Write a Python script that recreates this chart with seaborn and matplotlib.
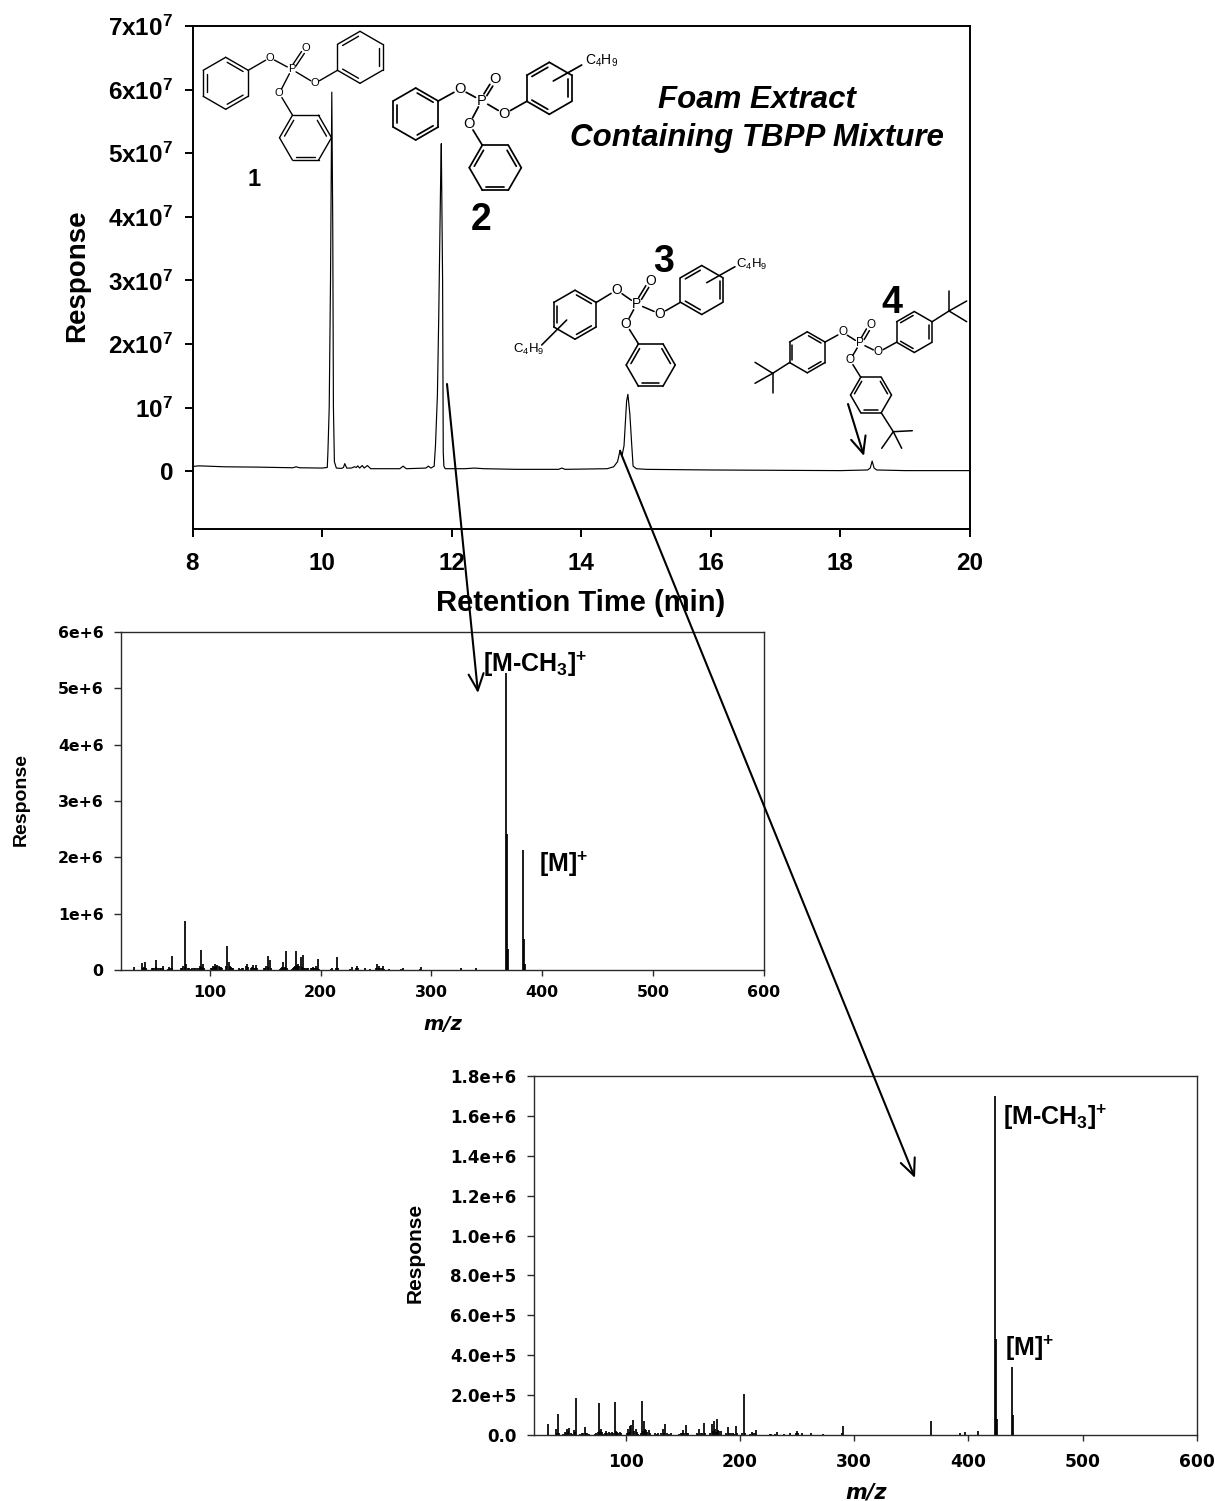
import numpy as np
import pandas as pd
import matplotlib
matplotlib.use("Agg")
import matplotlib.pyplot as plt
import seaborn as sns

# ---------------- data ----------------
chrom_time = [8, 8.1, 8.5, 9, 9.55, 9.6, 9.65, 10.0, 10.08, 10.09, 10.11, 10.13, 10.14, 10.15, 10.165, 10.175, 10.19, 10.22,
              10.3, 10.33, 10.35, 10.38, 10.45, 10.5, 10.53, 10.55, 10.58, 10.62, 10.65, 10.7, 10.75, 11.2, 11.25, 11.3,
              11.6, 11.64, 11.68, 11.73, 11.75, 11.78, 11.8, 11.83, 11.84, 11.86, 11.87, 11.88, 11.9, 12.2, 12.35, 12.5, 13, 13.65,
              13.7, 13.75, 14.4, 14.5, 14.56, 14.6, 14.63, 14.66, 14.7, 14.72, 14.75, 14.78, 14.8, 14.85, 15, 16, 18,
              18.42, 18.46, 18.49, 18.52, 18.56, 19, 20]
chrom_resp = [.075, .085, .07, .065, .055, .07, .055, .05, .06, .3, 1.0, 3.0, 4.5, 5.96, 3.8, 1.0, .15, .05,
              .045, .06, .12, .05, .05, .07, .06, .085, .05, .09, .05, .09, .04, .04, .08, .04,
              .05, .08, .05, .08, .4, 1.2, 2.4, 4.6, 5.15, 3.0, .3, .08, .04, .04, .05, .04, .03, .03,
              .05, .03, .04, .07, .15, .33, .25, .4, 1.1, 1.21, .9, .4, .08, .04, .03, .02, .01,
              .02, .05, .16, .05, .02, .01, .01]

ms1_mz = [32, 39, 42, 48, 50, 51.6, 56, 57.6, 63, 65.8, 75, 77.5, 79, 84, 86, 90, 92, 94, 102, 105, 107, 110, 116, 117,
          119, 126, 129, 134, 139, 142, 150, 152.5, 154, 164, 166, 169, 175, 178, 180, 182, 184, 188, 193, 196, 198,
          210, 215, 228, 233, 240, 245, 251, 253, 256, 262, 274, 291, 327, 340, 367.3, 368.2, 369.2, 382.4, 383.3, 384.3]
ms1_int = [.05, .12, .135, .03, .04, .18, .04, .06, .05, .25, .04, .87, .1, .03, .03, .04, .36, .1, .04, .1, .08, .05,
           .43, .13, .05, .03, .03, .1, .09, .08, .03, .24, .18, .03, .13, .33, .03, .34, .1, .22, .27, .04, .05, .06,
           .19, .04, .23, .05, .07, .03, .02, .1, .06, .06, .01, .03, .05, .03, .03, 5.28, 2.42, .37, 2.13, .55, .1]
ms1_small = [(40, .04), (41, .05), (43, .03), (49, .03), (52, .05), (53, .04), (55, .03), (58, .03), (62, .02), (64, .04),
             (66, .04), (74, .04), (76, .06), (78, .05), (80, .04), (81, .03), (83, .02), (87, .03), (89, .04), (91, .06),
             (93, .05), (95, .03), (101, .03), (103, .06), (104, .05), (106, .07), (108, .06), (109, .05), (111, .03),
             (115, .07), (118, .06), (120, .04), (121, .03), (127, .02), (130, .03), (133, .06), (135, .05), (137, .03),
             (138, .05), (140, .04), (141, .04), (143, .04), (149, .03), (151, .06), (153, .05), (155, .03), (163, .02),
             (165, .05), (167, .04), (168, .05), (170, .03), (174, .02), (176, .05), (177, .06), (179, .08), (181, .06),
             (183, .05), (185, .04), (186, .03), (187, .02), (189, .03), (191, .04), (192, .03), (194, .04), (195, .03),
             (197, .03), (199, .02), (209, .02), (214, .03), (216, .03), (227, .02), (232, .03), (234, .03), (250, .03),
             (252, .04), (254, .04), (255, .03), (257, .02), (273, .02), (290, .02)]

ms2_mz = [31.6, 38.6, 40.6, 46.7, 48.8, 50.8, 54.6, 56.6, 61.9, 64.2, 66.5, 74.4, 76.4, 78.2, 83.1, 85.2, 88, 90.4, 92.4,
          94.8, 102, 103.8, 105, 106.4, 108.7, 114.6, 116, 118, 120.4, 125.3, 128.2, 132.6, 134.4, 139.9, 148.6, 150.5,
          152.4, 154.5, 162, 164.3, 168.1, 175.4, 177.1, 180, 182, 189.1, 193.7, 196.4, 203.3, 210.3, 214.4, 227.2,
          232.2, 238.3, 243.8, 250, 254, 262, 272.3, 290.4, 367, 393, 397, 408, 423.2, 424, 425, 438.1, 439]
ms2_int = [.55, .3, 1.08, .17, .3, .37, .25, 1.87, .12, .42, .12, .12, 1.63, .33, .22, .18, .17, 1.68, .18,
           .17, .3, .47, .53, .78, .33, 1.73, .7, .28, .25, .12, .12, .33, .55, .13, .12, .25,
           .53, .12, .12, .33, .62, .55, .7, .8, .2, .43, .12, .47, 2.08, .18, .28, .08,
           .18, .08, .12, .22, .13, .12, .08, .48, .7, .1, .15, .2, 17.0, 4.8, .8, 3.4, 1.0]
ms2_small = [(39.6, .12), (42, .1), (45, .08), (47.7, .12), (49.8, .2), (51.8, .1), (53, .08), (55.6, .15), (60, .06),
             (63, .1), (65.3, .14), (67.5, .08), (73, .06), (75.4, .15), (77.3, .2), (79.2, .18), (80.2, .08), (82, .1),
             (84, .12), (86.2, .1), (89, .12), (91.4, .2), (93.4, .14), (96, .1), (101, .1), (103, .18), (107.5, .2),
             (109.7, .16), (111, .08), (113, .1), (115.4, .2), (117, .3), (119, .18), (121.5, .1), (127, .08), (131, .1),
             (133.5, .14), (136, .1), (138, .06), (147, .08), (149.6, .1), (151.4, .12), (153.5, .1), (163, .08),
             (166, .12), (167, .1), (169, .12), (174, .1), (176, .2), (178, .3), (179, .18), (181, .25), (183, .2),
             (188, .1), (190.2, .14), (192, .1), (195, .08), (197.5, .12), (202, .1), (204.5, .1), (209, .08),
             (211.5, .1), (213, .1), (226, .06), (231, .08), (249, .1), (251, .1), (289, .1)]

chrom_xticks = [8, 10, 12, 14, 16, 18, 20]
chrom_yticks = [0, 1, 2, 3, 4, 5, 6, 7]
chrom_ylabels = ["0", "10$^{7}$", "2x10$^{7}$", "3x10$^{7}$", "4x10$^{7}$", "5x10$^{7}$", "6x10$^{7}$", "7x10$^{7}$"]
mz_ticks = [100, 200, 300, 400, 500, 600]
ms1_yticks = [0, 1, 2, 3, 4, 5, 6]
ms1_ylabels = ["0", "1e+6", "2e+6", "3e+6", "4e+6", "5e+6", "6e+6"]
ms2_yticks = [0, 2, 4, 6, 8, 10, 12, 14, 16, 18]
ms2_ylabels = ["0.0", "2.0e+5", "4.0e+5", "6.0e+5", "8.0e+5", "1.0e+6", "1.2e+6", "1.4e+6", "1.6e+6", "1.8e+6"]

# ---------------- style ----------------
sns.set_theme(style="ticks")
plt.rcParams["font.family"] = ["Liberation Sans", "DejaVu Sans"]
plt.rcParams["mathtext.default"] = "regular"
plt.rcParams["axes.edgecolor"] = "black"
plt.rcParams["xtick.color"] = "black"
plt.rcParams["ytick.color"] = "black"
plt.rcParams["text.color"] = "black"
plt.rcParams["axes.labelcolor"] = "black"

W, H = 1215, 1501
fig = plt.figure(figsize=(W / 100, H / 100), dpi=100, facecolor="white")
WIDE = "DejaVu Sans"
SPINE = "#2a2a2a"


def box(l, t, r, b):
    return [l / W, 1 - b / H, (r - l) / W, (b - t) / H]


def finish(ax, xt, yt, ylab, xfs, yfs, lw, xlen, ylen, xpad, ypad, fam=None, col="black"):
    kw = {"fontfamily": fam} if fam else {}
    ax.set_xticks(xt)
    ax.set_xticklabels([str(v) for v in xt], fontsize=xfs, fontweight="bold", **kw)
    ax.set_yticks(yt)
    ax.set_yticklabels(ylab, fontsize=yfs, fontweight="bold", **kw)
    ax.tick_params(axis="x", length=xlen, width=lw, direction="out", pad=xpad, color=col)
    ax.tick_params(axis="y", length=ylen, width=lw, direction="out", pad=ypad, color=col)
    for s in ax.spines.values():
        s.set_linewidth(lw)
        s.set_color(col)


def labels(ax, xtxt, xpos, xkw, ytxt, ypos, ykw):
    ax.set_xlabel(xtxt, va="center", ha="center", **xkw)
    ax.set_ylabel(ytxt, va="center", ha="center", **ykw)
    ax.xaxis.set_label_coords(xpos[0] / W, 1 - xpos[1] / H, transform=fig.transFigure)
    ax.yaxis.set_label_coords(ypos[0] / W, 1 - ypos[1] / H, transform=fig.transFigure)


# chromatogram
ax1 = fig.add_axes(box(192.5, 26, 970, 528.5))
df = pd.DataFrame({"t": chrom_time, "r": chrom_resp})
sns.lineplot(data=df, x="t", y="r", ax=ax1, color="black", lw=0.85, estimator=None, sort=False)
ax1.set_xlim(8, 20)
ax1.set_ylim(-0.9, 7)
finish(ax1, chrom_xticks, chrom_yticks, chrom_ylabels, 17.5, 17.5, 1.4, 5.8, 5.8, 11, 8)
labels(ax1, "Retention Time (min)", (581, 603), dict(fontsize=21, fontweight="bold"),
       "Response", (77, 276), dict(fontsize=20, fontweight="bold"))

# spectrum 1
ax2 = fig.add_axes(box(121, 632, 764, 969.8))
d2 = pd.concat([pd.DataFrame({"mz": ms1_mz, "i": ms1_int}),
                pd.DataFrame(ms1_small, columns=["mz", "i"])])
ax2.vlines(d2["mz"], 0, d2["i"], color="black", lw=1.25)
ax2.set_xlim(20, 600)
ax2.set_ylim(0, 6)
finish(ax2, mz_ticks, ms1_yticks, ms1_ylabels, 11.4, 11.3, 1.0, 4, 5, 7, 7.5, fam=WIDE, col=SPINE)
labels(ax2, "m/z", (443, 1025), dict(fontsize=14, fontweight="bold", fontstyle="italic", fontfamily=WIDE),
       "Response", (21.5, 800), dict(fontsize=14, fontweight="bold"))

# spectrum 2
ax3 = fig.add_axes(box(534.3, 1075.7, 1197, 1435.3))
d3 = pd.concat([pd.DataFrame({"mz": ms2_mz, "i": ms2_int}),
                pd.DataFrame(ms2_small, columns=["mz", "i"])])
ax3.vlines(d3["mz"], 0, d3["i"], color="black", lw=1.25)
ax3.set_xlim(20, 600)
ax3.set_ylim(0, 18)
finish(ax3, mz_ticks, ms2_yticks, ms2_ylabels, 12.3, 12, 1.0, 4, 5, 8.5, 7.8, fam=WIDE, col=SPINE)
labels(ax3, "m/z", (866, 1492), dict(fontsize=15, fontweight="bold", fontstyle="italic", fontfamily=WIDE),
       "Response", (415, 1253), dict(fontsize=15, fontweight="bold"))

# ---------------- overlay in pixel coordinates ----------------
ov = fig.add_axes([0, 0, 1, 1], zorder=10)
ov.set_xlim(0, W)
ov.set_ylim(H, 0)
ov.axis("off")
ov.patch.set_alpha(0)


def seg(a, b, lw=1.0):
    ov.plot([a[0], b[0]], [a[1], b[1]], color="black", lw=lw, solid_capstyle="round")


def ring(cx, cy, r, flat=False, off=0, lw=1.0):
    ang = np.radians((-120 if flat else -90) + 60 * np.arange(6))
    pts = np.c_[cx + r * np.cos(ang), cy + r * np.sin(ang)]
    c = np.array([cx, cy])
    for k in range(6):
        p, q = pts[k], pts[(k + 1) % 6]
        seg(p, q, lw)
        if (k - off) % 2 == 0:
            p2 = c + (p - c) * 0.84
            q2 = c + (q - c) * 0.84
            seg(p2 + (q2 - p2) * 0.08, q2 - (q2 - p2) * 0.08, lw)
    return pts


def bond(a, b, ga=0.0, gb=0.0, lw=1.0):
    a, b = np.array(a, float), np.array(b, float)
    u = (b - a) / np.hypot(*(b - a))
    seg(a + u * ga, b - u * gb, lw)


def dbl(a, b, ga, gb, d=1.7, lw=1.0):
    a, b = np.array(a, float), np.array(b, float)
    u = (b - a) / np.hypot(*(b - a))
    n = np.array([-u[1], u[0]]) * d
    bond(a + n, b + n, ga, gb, lw)
    bond(a - n, b - n, ga, gb, lw)


def atom(p, s, fs):
    ov.text(p[0], p[1], s, ha="center", va="center", fontsize=fs)


def core(P, O1, O2, O3, Od, v1, v2, v3, fs, g=6.0, lw=1.0):
    atom(P, "P", fs)
    for O in (O1, O2, O3):
        atom(O, "O", fs)
        bond(P, O, g, g, lw)
    atom(Od, "O", fs)
    dbl(P, Od, g, g, lw=lw)
    for O, v in ((O1, v1), (O2, v2), (O3, v3)):
        bond(O, v, g, 0, lw)


# molecule 1
a = ring(225.7, 83.3, 26, off=0)
b = ring(360, 57.3, 26, off=1)
c = ring(305.5, 137.7, 26, flat=True, off=1)
core((291.7, 69.3), (270, 57.7), (315, 83.3), (279.3, 93.3), (305.7, 48.3), a[1], b[4], c[0], 8, g=5)

# molecule 2
a = ring(415.7, 114, 26, off=0, lw=1.25)
b = ring(549.3, 88.3, 26, off=1, lw=1.25)
c = ring(495.3, 167.7, 26, flat=True, off=1, lw=1.25)
core((481.7, 100.7), (460, 89), (504.3, 114), (469.3, 124), (495, 79.3), a[1], b[4], c[0], 10.5, g=7, lw=1.25)
bond((553.3, 81), (581.7, 65), lw=1.25)
ov.text(585, 61, "C$_4$H$_9$", ha="left", va="center", fontsize=10)

# molecule 3
a = ring(575, 314.7, 24.5, off=0, lw=1.15)
b = ring(701.7, 290, 24.5, off=1, lw=1.15)
c = ring(650.7, 365, 24.5, flat=True, off=1, lw=1.15)
core((636.7, 304), (616.7, 290), (660, 314), (626, 324), (650.7, 281), a[1], b[4], c[0], 10, g=6.5, lw=1.15)
bond((706.7, 282.7), (735, 266.7), lw=1.15)
ov.text(736, 264, "C$_4$H$_9$", ha="left", va="center", fontsize=9.5)
bond((566.7, 320), (541.7, 345), lw=1.15)
ov.text(513, 349, "C$_4$H$_9$", ha="left", va="center", fontsize=9.5)

# molecule 4
a = ring(807.3, 352.3, 20.5, off=0, lw=1.1)
b = ring(914.3, 332, 20.5, off=1, lw=1.1)
c = ring(871, 395, 20.5, flat=True, off=1, lw=1.1)
core((860, 343.3), (842.7, 332.3), (878.3, 352.3), (850, 360), (870.7, 325), a[1], b[4], c[0], 8.5, g=5.5, lw=1.1)
for base, hub, ends in [(b[1], (949, 311), [(949, 291), (966.7, 301), (966.7, 321.7)]),
                        (c[3], (893.3, 431.7), [(912.3, 430.7), (901.7, 448.3), (881.7, 448.3)]),
                        (a[4], (772.7, 373.3), [(755, 362.3), (755, 383.3), (772.7, 393.3)])]:
    bond(base, hub, lw=1.1)
    for e in ends:
        bond(hub, e, lw=1.1)

# compound numbers
ov.text(254, 179, "1", ha="center", va="center", fontsize=17, fontweight="bold")
ov.text(481, 220, "2", ha="center", va="center", fontsize=27, fontweight="bold")
ov.text(664, 262, "3", ha="center", va="center", fontsize=27, fontweight="bold")
ov.text(892, 303, "4", ha="center", va="center", fontsize=27, fontweight="bold")

# title text
ov.text(757, 100, "Foam Extract", ha="center", va="center", fontsize=22.5, fontweight="bold", fontstyle="italic")
ov.text(757, 138, "Containing TBPP Mixture", ha="center", va="center", fontsize=22.5, fontweight="bold", fontstyle="italic")

# ion labels
ov.text(483, 664, "[M-CH$_3$]$^{+}$", ha="left", va="center", fontsize=18, fontweight="bold")
ov.text(539, 864, "[M]$^{+}$", ha="left", va="center", fontsize=18, fontweight="bold")
ov.text(1003, 1117, "[M-CH$_3$]$^{+}$", ha="left", va="center", fontsize=18, fontweight="bold")
ov.text(1005, 1348, "[M]$^{+}$", ha="left", va="center", fontsize=18, fontweight="bold")

# arrows
for tail, tip in [((447, 384), (478, 693)), ((620, 451), (915, 1178)), ((848, 404), (864, 456))]:
    ov.annotate("", xy=tip, xytext=tail,
                arrowprops=dict(arrowstyle="->,head_length=1.0,head_width=0.45", color="black", lw=1.5,
                                shrinkA=0, shrinkB=0))

fig.savefig("out.png", dpi=100, facecolor="white")
